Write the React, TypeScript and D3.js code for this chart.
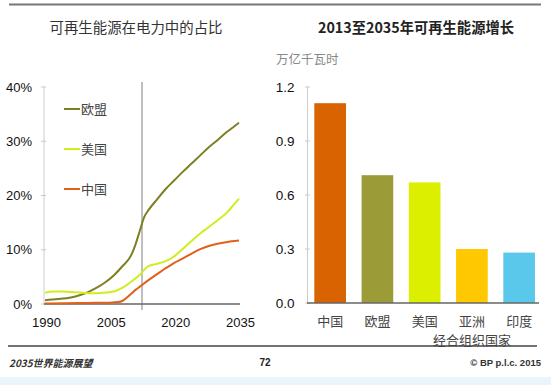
import React from "react";
import * as d3 from "d3";

// left chart: share of renewables in power (%)
const yearsEU = [1990, 1993, 1996, 1998, 2000, 2002, 2004, 2006, 2008, 2010, 2011, 2012, 2013, 2014, 2016, 2018, 2020, 2022, 2024, 2026, 2028, 2030, 2032, 2034, 2035];
const shareEU = [0.7, 0.9, 1.2, 1.6, 2.2, 3.0, 4.0, 5.3, 7.0, 9.0, 11.0, 13.5, 16.0, 17.3, 19.3, 21.2, 22.8, 24.4, 25.9, 27.4, 28.9, 30.2, 31.6, 32.8, 33.4];
const yearsUS = [1990, 1992, 1994, 1996, 1998, 2000, 2002, 2004, 2006, 2008, 2010, 2012, 2014, 2016, 2018, 2020, 2022, 2024, 2026, 2028, 2030, 2032, 2034, 2035];
const shareUS = [2.1, 2.3, 2.3, 2.2, 2.1, 2.0, 2.0, 2.1, 2.3, 3.0, 4.1, 5.4, 7.0, 7.4, 7.9, 8.8, 10.2, 11.6, 13.0, 14.2, 15.4, 16.7, 18.5, 19.4];
const yearsCN = [1990, 1995, 2000, 2005, 2007, 2008, 2009, 2010, 2011, 2012, 2014, 2016, 2018, 2020, 2022, 2024, 2026, 2028, 2030, 2032, 2035];
const shareCN = [0.1, 0.15, 0.2, 0.25, 0.35, 0.6, 1.2, 1.9, 2.6, 3.2, 4.4, 5.5, 6.6, 7.6, 8.4, 9.3, 10.1, 10.7, 11.1, 11.4, 11.7];
const shareTicks = [0, 10, 20, 30, 40];
const yearTicks = [1990, 2005, 2020, 2035];
const dividerYear = 2012.5;

// right chart: renewables growth 2013-2035 (trillion kWh)
const regions = ["中国", "欧盟", "美国", "亚洲", "印度"];
const growth = [1.11, 0.71, 0.67, 0.3, 0.28];
const growthTicks = [0, 0.3, 0.6, 0.9, 1.2];
const barColors = ["#d86300", "#9b9b38", "#dcef00", "#ffc800", "#5ac8ea"];

const series = [
  { name: "欧盟", years: yearsEU, values: shareEU, color: "#7f7f22" },
  { name: "美国", years: yearsUS, values: shareUS, color: "#d0ee1c" },
  { name: "中国", years: yearsCN, values: shareCN, color: "#e2601a" },
];

const sans = "'Liberation Sans', Arial, sans-serif";
const cjk = "'Noto Sans CJK SC', sans-serif";

export default function App() {
  const x = d3.scaleLinear().domain([1990, 2035]).range([45, 239]);
  const y = d3.scaleLinear().domain([0, 40]).range([304, 87]);
  const line = d3
    .line<[number, number]>()
    .x((d) => x(d[0]))
    .y((d) => y(d[1]))
    .curve(d3.curveMonotoneX);

  const xb = d3.scaleBand().domain(regions).range([307, 542.3]).paddingInner(0.33).paddingOuter(0.155);
  const yb = d3.scaleLinear().domain([0, 1.2]).range([303, 87]);

  return (
    <svg width={551} height={385} style={{ position: "absolute", left: 0, top: 0, background: "#fff" }}>
      <line x1={9} x2={541} y1={4.5} y2={4.5} stroke="#777" strokeWidth={2} />

      <text x={136} y={33} textAnchor="middle" fontFamily={cjk} fontSize={14.5} fill="#333" textLength={173} lengthAdjust="spacingAndGlyphs">
        可再生能源在电力中的占比
      </text>
      <text x={416} y={33} textAnchor="middle" fontFamily={cjk} fontSize={14.5} fontWeight={700} fill="#222" textLength={196} lengthAdjust="spacingAndGlyphs">
        2013至2035年可再生能源增长
      </text>

      {/* left chart */}
      <line x1={44} x2={44} y1={y(40)} y2={y(0)} stroke="#ccc" />
      {shareTicks.map((t) => (
        <g key={t}>
          <line x1={41} x2={46} y1={y(t)} y2={y(t)} stroke="#ccc" />
          <text x={32} y={y(t) + 4.5} textAnchor="end" fontFamily={sans} fontSize={13} fill="#111">
            {t}%
          </text>
        </g>
      ))}
      <line x1={x(dividerYear)} x2={x(dividerYear)} y1={82} y2={310} stroke="#aaa" strokeWidth={1.5} />
      <line x1={44} x2={240} y1={y(0)} y2={y(0)} stroke="#666" strokeWidth={1.5} />
      {yearTicks.map((t) => (
        <text key={t} x={x(t) + 1.5} y={327} textAnchor="middle" fontFamily={sans} fontSize={13} fill="#111">
          {t}
        </text>
      ))}
      {series.map((s) => (
        <path
          key={s.name}
          d={line(s.years.map((yr, i) => [yr, s.values[i]]) as [number, number][]) || ""}
          fill="none"
          stroke={s.color}
          strokeWidth={2}
        />
      ))}
      {series.map((s, i) => (
        <g key={s.name} transform={`translate(0,${109 + i * 40})`}>
          <line x1={64} x2={80} y1={0} y2={0} stroke={s.color} strokeWidth={2} />
          <text x={81} y={4.5} fontFamily={cjk} fontSize={13} fill="#444">
            {s.name}
          </text>
        </g>
      ))}

      {/* right chart */}
      <text x={276} y={64} fontFamily={cjk} fontSize={12.5} fill="#888">
        万亿千瓦时
      </text>
      <line x1={307.5} x2={307.5} y1={yb(1.2)} y2={yb(0)} stroke="#ccc" />
      {growthTicks.map((t) => (
        <g key={t}>
          <line x1={305} x2={310} y1={yb(t)} y2={yb(t)} stroke="#ccc" />
          <text x={294.5} y={yb(t) + 4.5} textAnchor="end" fontFamily={sans} fontSize={13.5} fill="#111">
            {t.toFixed(1)}
          </text>
        </g>
      ))}
      {regions.map((r, i) => (
        <rect key={r} x={xb(r)} y={yb(growth[i])} width={xb.bandwidth()} height={yb(0) - yb(growth[i])} fill={barColors[i]} />
      ))}
      <line x1={307} x2={539} y1={yb(0)} y2={yb(0)} stroke="#666" strokeWidth={1.5} />
      {regions.map((r) => (
        <text key={r} x={(xb(r) || 0) + xb.bandwidth() / 2} y={325.5} textAnchor="middle" fontFamily={cjk} fontSize={13} fill="#444">
          {r}
        </text>
      ))}
      <text x={(xb("亚洲") || 0) + xb.bandwidth() / 2} y={344.5} textAnchor="middle" fontFamily={cjk} fontSize={13} fill="#444">
        经合组织国家
      </text>

      {/* footer */}
      <line x1={8} x2={537} y1={346} y2={346} stroke="#444" strokeWidth={1.5} />
      <text x={9} y={367} fontFamily={cjk} fontSize={10} fontStyle="italic" fontWeight={700} fill="#333">
        2035世界能源展望
      </text>
      <text x={265} y={366} textAnchor="middle" fontFamily={sans} fontSize={10} fontWeight={700} fill="#222">
        72
      </text>
      <text x={541} y={366} textAnchor="end" fontFamily={sans} fontSize={9.5} fontWeight={700} fill="#333">
        © BP p.l.c. 2015
      </text>
      <rect x={0} y={377} width={551} height={8} fill="#eaf4fb" />
    </svg>
  );
}
